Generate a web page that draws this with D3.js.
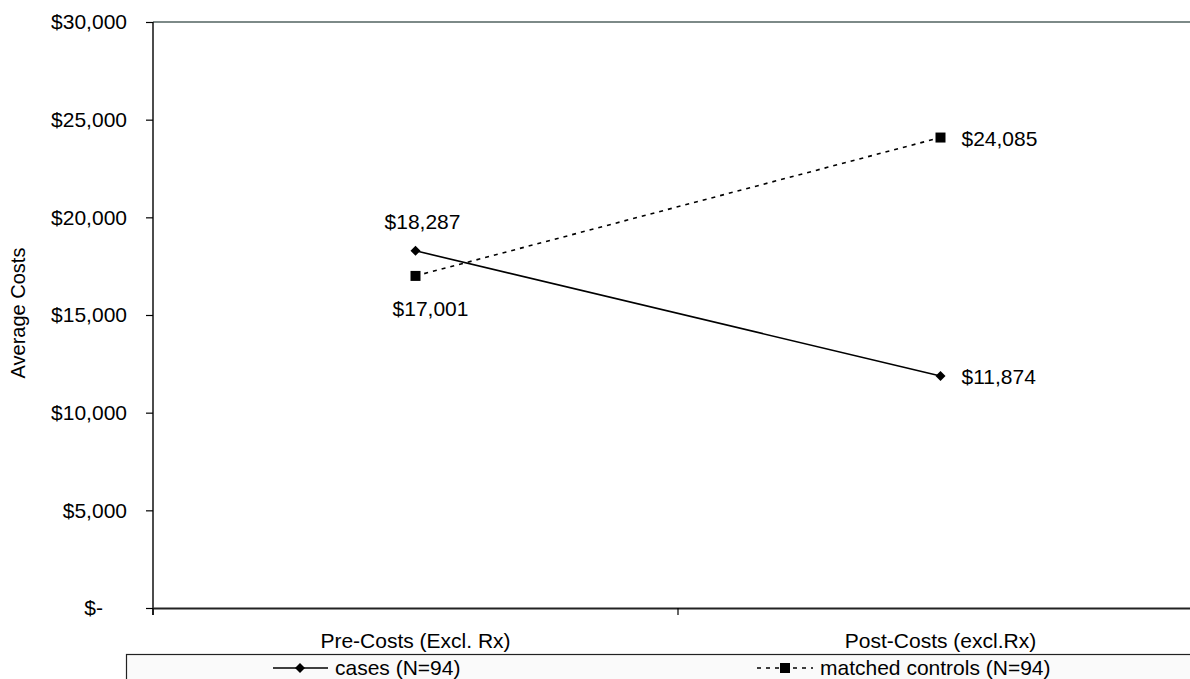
<!DOCTYPE html>
<html>
<head>
<meta charset="utf-8">
<script src="https://cdn.jsdelivr.net/npm/d3@7"></script>
<style>
  body { margin: 0; background: #fff; }
  text { font-family: "Liberation Sans", Arial, sans-serif; fill: #000; }
</style>
</head>
<body>
<script>
// chart data
var categories = ["Pre-Costs (Excl. Rx)", "Post-Costs (excl.Rx)"];
var casesValues = [18287, 11874];
var controlValues = [17001, 24085];
var seriesNames = ["cases (N=94)", "matched controls (N=94)"];
var yTicks = [0, 5000, 10000, 15000, 20000, 25000, 30000];

var svgWidth = 1190;
var svgHeight = 679;
var fontSize = "21px";

var margin = { top: 22, right: -13, bottom: 71, left: 153 };
var width = svgWidth - margin.left - margin.right;
var height = svgHeight - margin.top - margin.bottom;

var svg = d3.select("body")
  .append("svg")
  .attr("width", svgWidth)
  .attr("height", svgHeight);

var chartGroup = svg.append("g")
  .attr("transform", `translate(${margin.left}, ${margin.top})`);

var xScale = d3.scaleBand()
  .domain(categories)
  .range([0, width]);

var yScale = d3.scaleLinear()
  .domain([0, 30000])
  .range([height, 0]);

var fmt = d3.format(",");
function money(v) { return v === 0 ? "$-" : "$" + fmt(v); }

// top border of the plot area
chartGroup.append("line")
  .attr("x1", 0).attr("x2", width)
  .attr("y1", 0).attr("y2", 0)
  .attr("stroke", "#7d8a88")
  .attr("stroke-width", 2);

// y axis
var leftAxis = d3.axisLeft(yScale)
  .tickValues(yTicks)
  .tickSize(7)
  .tickPadding(19)
  .tickFormat(money);

var yAxisG = chartGroup.append("g").call(leftAxis);
yAxisG.select(".domain").attr("stroke", "#111").attr("stroke-width", 1.5).attr("d", `M0,0V${height + 7}`);
yAxisG.selectAll(".tick line").attr("stroke", "#000").attr("stroke-width", 1.2);
yAxisG.selectAll(".tick text")
  .attr("font-size", fontSize)
  .attr("font-family", "Liberation Sans, Arial, sans-serif")
  .attr("fill", "#000");
yAxisG.selectAll(".tick text").filter(d => d === 0).attr("dx", "-24px");

// x axis
var bottomAxis = d3.axisBottom(xScale)
  .tickSize(0)
  .tickPadding(25);
var xAxisG = chartGroup.append("g")
  .attr("transform", `translate(0, ${height})`)
  .call(bottomAxis);
xAxisG.select(".domain").attr("stroke", "#222").attr("stroke-width", 2);
xAxisG.selectAll(".tick text")
  .attr("font-size", fontSize)
  .attr("font-family", "Liberation Sans, Arial, sans-serif")
  .attr("fill", "#000");

// category boundary ticks
var boundaries = [0, xScale.bandwidth(), 2 * xScale.bandwidth()];
chartGroup.selectAll(".xbound")
  .data(boundaries)
  .enter()
  .append("line")
  .attr("x1", d => d).attr("x2", d => d)
  .attr("y1", height).attr("y2", height + 7)
  .attr("stroke", "#000")
  .attr("stroke-width", 1.2);

// y axis title
chartGroup.append("text")
  .attr("transform", "rotate(-90)")
  .attr("x", -(height / 2) + 2)
  .attr("y", -margin.left + 25)
  .attr("text-anchor", "middle")
  .attr("font-size", "20px")
  .text("Average Costs");

var cx = d => xScale(d) + xScale.bandwidth() / 2;

var line = d3.line()
  .x(d => cx(d.cat))
  .y(d => yScale(d.v));

var casesData = categories.map((c, i) => ({ cat: c, v: casesValues[i] }));
var controlData = categories.map((c, i) => ({ cat: c, v: controlValues[i] }));

// cases line
chartGroup.append("path")
  .datum(casesData)
  .attr("d", line)
  .attr("fill", "none")
  .attr("stroke", "#000")
  .attr("stroke-width", 1.6);

// matched controls line
chartGroup.append("path")
  .datum(controlData)
  .attr("d", line)
  .attr("fill", "none")
  .attr("stroke", "#000")
  .attr("stroke-width", 1.6)
  .attr("stroke-dasharray", "4,5");

var diamond = d3.symbol().type(d3.symbolDiamond2 || d3.symbolDiamond).size(64);
var square = d3.symbol().type(d3.symbolSquare).size(100);

chartGroup.selectAll(".caseMark")
  .data(casesData)
  .enter()
  .append("path")
  .attr("d", diamond)
  .attr("transform", d => `translate(${cx(d.cat)}, ${yScale(d.v)})`)
  .attr("fill", "#000");

chartGroup.selectAll(".ctrlMark")
  .data(controlData)
  .enter()
  .append("path")
  .attr("d", square)
  .attr("transform", d => `translate(${cx(d.cat)}, ${yScale(d.v)})`)
  .attr("fill", "#000");

// data labels
var caseLabelPos = [{ dx: 7, dy: -22, anchor: "middle" }, { dx: 21, dy: 8, anchor: "start" }];
var ctrlLabelPos = [{ dx: 15, dy: 40, anchor: "middle" }, { dx: 21, dy: 8, anchor: "start" }];

chartGroup.selectAll(".caseLabel")
  .data(casesData)
  .enter()
  .append("text")
  .attr("x", (d, i) => cx(d.cat) + caseLabelPos[i].dx)
  .attr("y", (d, i) => yScale(d.v) + caseLabelPos[i].dy)
  .attr("text-anchor", (d, i) => caseLabelPos[i].anchor)
  .attr("font-size", fontSize)
  .text(d => money(d.v));

chartGroup.selectAll(".ctrlLabel")
  .data(controlData)
  .enter()
  .append("text")
  .attr("x", (d, i) => cx(d.cat) + ctrlLabelPos[i].dx)
  .attr("y", (d, i) => yScale(d.v) + ctrlLabelPos[i].dy)
  .attr("text-anchor", (d, i) => ctrlLabelPos[i].anchor)
  .attr("font-size", fontSize)
  .text(d => money(d.v));

// legend box
var legend = svg.append("g");
legend.append("rect")
  .attr("x", 126.5).attr("y", 654.5)
  .attr("width", 1100).attr("height", 60)
  .attr("fill", "#fafafa")
  .attr("stroke", "#222")
  .attr("stroke-width", 1.2);

// cases entry
legend.append("line")
  .attr("x1", 273).attr("x2", 328).attr("y1", 668).attr("y2", 668)
  .attr("stroke", "#000").attr("stroke-width", 1.6);
legend.append("path")
  .attr("d", diamond)
  .attr("transform", "translate(300, 668)")
  .attr("fill", "#000");
legend.append("text")
  .attr("x", 335).attr("y", 675)
  .attr("font-size", fontSize)
  .text(seriesNames[0]);

// matched controls entry
legend.append("line")
  .attr("x1", 757).attr("x2", 813).attr("y1", 668).attr("y2", 668)
  .attr("stroke", "#000").attr("stroke-width", 1.6)
  .attr("stroke-dasharray", "4,5");
legend.append("path")
  .attr("d", square)
  .attr("transform", "translate(785, 668)")
  .attr("fill", "#000");
legend.append("text")
  .attr("x", 820).attr("y", 675)
  .attr("font-size", fontSize)
  .text(seriesNames[1]);
</script>
</body>
</html>
